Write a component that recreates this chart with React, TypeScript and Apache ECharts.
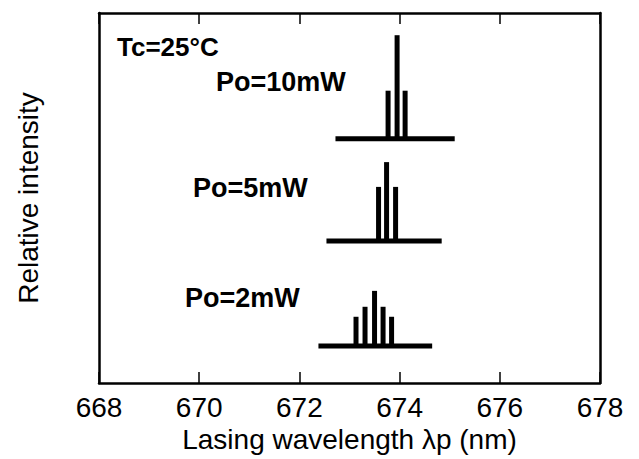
import React, { useEffect, useRef } from "react";
import * as echarts from "echarts";

// Wavelength axis ticks (nm)
const xTicks = [668, 670, 672, 674, 676, 678];

// Po = 10 mW spectrum
const p10Lambda = [673.77, 673.95, 674.11];
const p10Peak = [79, 94, 79];
const p10Base = 66;
const p10Range = [672.72, 675.1];

// Po = 5 mW spectrum
const p5Lambda = [673.58, 673.74, 673.92];
const p5Peak = [53, 59.7, 53];
const p5Base = 38.4;
const p5Range = [672.54, 674.84];

// Po = 2 mW spectrum
const p2Lambda = [673.13, 673.31, 673.5, 673.67, 673.84];
const p2Peak = [17.9, 20.6, 24.9, 20.6, 17.9];
const p2Base = 10;
const p2Range = [672.38, 674.65];

const labels = ["Tc=25°C", "Po=10mW", "Po=5mW", "Po=2mW"];

const FONT = "'Liberation Sans', Arial, Helvetica, sans-serif";

export default function App() {
  const ref = useRef<HTMLDivElement>(null);
  useEffect(() => {
    if (!ref.current) return;
    const chart = echarts.init(ref.current, null, { renderer: "svg" });
    const spectra = [
      { lambda: p10Lambda, peak: p10Peak, base: p10Base, range: p10Range },
      { lambda: p5Lambda, peak: p5Peak, base: p5Base, range: p5Range },
      { lambda: p2Lambda, peak: p2Peak, base: p2Base, range: p2Range },
    ];
    const peakData: number[][] = [];
    spectra.forEach((s) => {
      s.lambda.forEach((l, i) => peakData.push([l, s.base, s.peak[i]]));
    });
    const baseSeries = spectra.map((s) => ({
      type: "line",
      xAxisIndex: 0,
      yAxisIndex: 0,
      data: [
        [s.range[0], s.base],
        [s.range[1], s.base],
      ],
      symbol: "none",
      lineStyle: { color: "#000", width: 5, cap: "butt" },
      silent: true,
    }));
    const axisLine = { show: true, onZero: false, lineStyle: { color: "#000", width: 2.5 } };
    const option: any = {
      animation: false,
      grid: { left: 99, right: 39, top: 13, bottom: 76 },
      xAxis: [
        {
          type: "value",
          min: xTicks[0],
          max: xTicks[xTicks.length - 1],
          interval: 2,
          position: "bottom",
          axisLine,
          axisTick: { show: true, inside: true, length: 11, lineStyle: { color: "#000", width: 1.5 } },
          axisLabel: { color: "#000", fontSize: 28, margin: 10, fontFamily: FONT },
          splitLine: { show: false },
          name: "Lasing wavelength λp (nm)",
          nameLocation: "middle",
          nameGap: 40,
          nameTextStyle: { color: "#000", fontSize: 28, fontFamily: FONT },
        },
        {
          type: "value",
          min: xTicks[0],
          max: xTicks[xTicks.length - 1],
          interval: 2,
          position: "top",
          axisLine,
          axisTick: { show: true, inside: true, length: 11, lineStyle: { color: "#000", width: 1.5 } },
          axisLabel: { show: false },
          splitLine: { show: false },
        },
      ],
      yAxis: [
        {
          type: "value",
          min: 0,
          max: 100,
          position: "left",
          axisLine,
          axisTick: { show: false },
          axisLabel: { show: false },
          splitLine: { show: false },
          name: "Relative intensity",
          nameLocation: "middle",
          nameGap: 57,
          nameRotate: 90,
          nameTextStyle: { color: "#000", fontSize: 28, fontFamily: FONT },
        },
        {
          type: "value",
          min: 0,
          max: 100,
          position: "right",
          axisLine,
          axisTick: { show: false },
          axisLabel: { show: false },
          splitLine: { show: false },
        },
      ],
      series: [
        ...baseSeries,
        {
          type: "custom",
          xAxisIndex: 0,
          yAxisIndex: 0,
          data: peakData,
          encode: { x: 0, y: 2 },
          renderItem: (params: any, api: any) => {
            const x = api.value(0);
            const top = api.coord([x, api.value(2)]);
            const bot = api.coord([x, api.value(1)]);
            return {
              type: "rect",
              shape: { x: top[0] - 2.5, y: top[1], width: 5, height: bot[1] - top[1] },
              style: { fill: "#000" },
            };
          },
        },
      ],
      graphic: [
        { type: "text", left: 117, top: 34, style: { text: labels[0], fontSize: 26, fontWeight: "bold", fontFamily: FONT, fill: "#000" } },
        { type: "text", left: 216, top: 68, style: { text: labels[1], fontSize: 27, fontWeight: "bold", fontFamily: FONT, fill: "#000" } },
        { type: "text", left: 193, top: 174, style: { text: labels[2], fontSize: 27, fontWeight: "bold", fontFamily: FONT, fill: "#000" } },
        { type: "text", left: 185, top: 284, style: { text: labels[3], fontSize: 27, fontWeight: "bold", fontFamily: FONT, fill: "#000" } },
      ],
    };
    chart.setOption(option);
    return () => chart.dispose();
  }, []);
  return (
    <div
      ref={ref}
      style={{ position: "fixed", left: 0, top: 0, width: 639, height: 459, background: "#fff" }}
    />
  );
}
